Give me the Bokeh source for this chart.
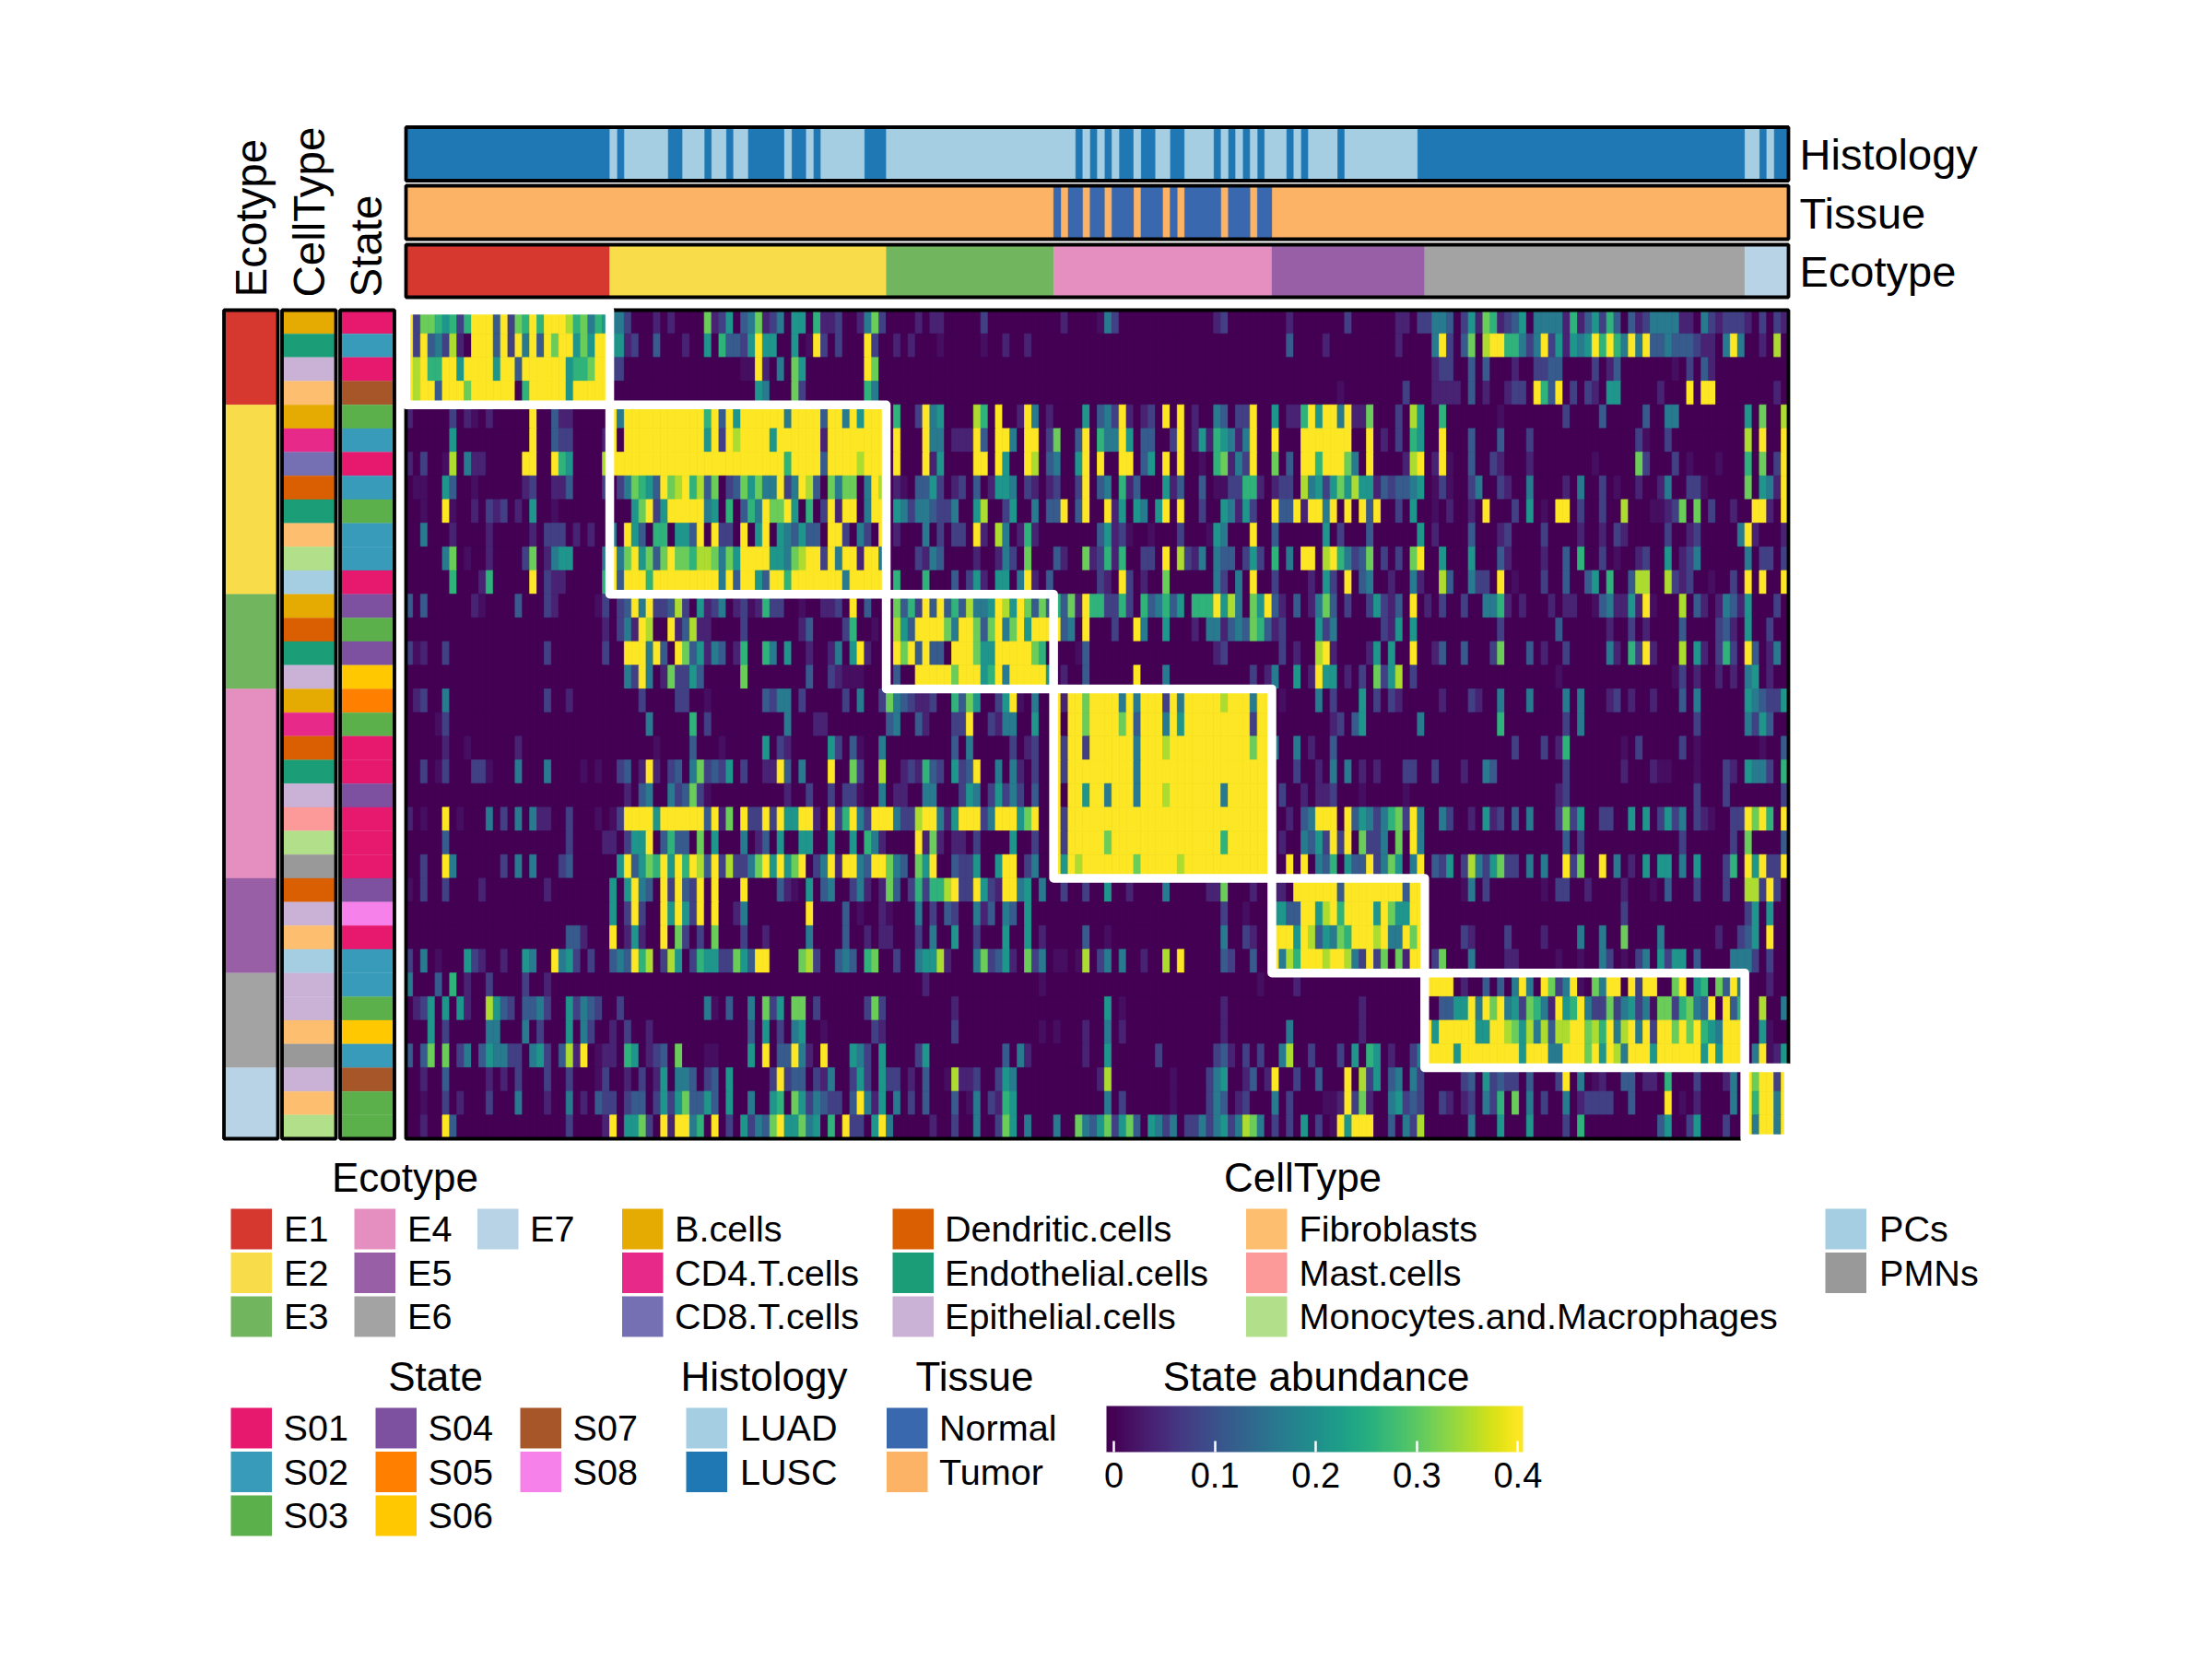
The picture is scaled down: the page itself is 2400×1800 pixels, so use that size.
from math import pi
from bokeh.core.properties import value
from bokeh.embed import file_html
from bokeh.models import ColorBar, ColumnDataSource, FixedTicker, LinearColorMapper, Range1d
from bokeh.palettes import Viridis256
from bokeh.plotting import figure
from bokeh.resources import INLINE
from bokeh.transform import linear_cmap

# ---------- values ----------
n_columns = 190
ecotypes = ["E1", "E2", "E3", "E4", "E5", "E6", "E7"]
ecotype_colors = ["#D6372E", "#F9DC4A", "#71B55F", "#E58FC0", "#985EA6", "#A3A3A3", "#B8D3E6"]
ecotype_columns = [28, 38, 23, 30, 21, 44, 6]
ecotype_rows = [4, 8, 4, 8, 4, 4, 3]

celltype_names = ["B.cells", "CD4.T.cells", "CD8.T.cells", "Dendritic.cells", "Endothelial.cells",
                  "Epithelial.cells", "Fibroblasts", "Mast.cells", "Monocytes.and.Macrophages", "PCs", "PMNs"]
celltype_colors = ["#E6AB02", "#E7298A", "#7570B3", "#D95F02", "#1B9E77", "#CAB2D6",
                   "#FDBF6F", "#FB9A99", "#B2DF8A", "#A6CEE3", "#999999"]
state_names = ["S01", "S02", "S03", "S04", "S05", "S06", "S07", "S08"]
state_colors = ["#E7196F", "#389BBA", "#5CB04B", "#7E50A0", "#FF7F00", "#FFC800", "#A65628", "#F781EA"]
histology_names = ["LUAD", "LUSC"]
histology_colors = ["#A6CEE3", "#1F78B4"]
tissue_names = ["Normal", "Tumor"]
tissue_colors = ["#3A68AE", "#FDB366"]

row_celltypes = ["B.cells", "Endothelial.cells", "Epithelial.cells", "Fibroblasts", "B.cells", "CD4.T.cells",
                 "CD8.T.cells", "Dendritic.cells", "Endothelial.cells", "Fibroblasts", "Monocytes.and.Macrophages",
                 "PCs", "B.cells", "Dendritic.cells", "Endothelial.cells", "Epithelial.cells", "B.cells",
                 "CD4.T.cells", "Dendritic.cells", "Endothelial.cells", "Epithelial.cells", "Mast.cells",
                 "Monocytes.and.Macrophages", "PMNs", "Dendritic.cells", "Epithelial.cells", "Fibroblasts", "PCs",
                 "Epithelial.cells", "Epithelial.cells", "Fibroblasts", "PMNs", "Epithelial.cells", "Fibroblasts",
                 "Monocytes.and.Macrophages"]
row_states = ["S01", "S02", "S01", "S07", "S03", "S02", "S01", "S02", "S03", "S02", "S02", "S01", "S04", "S03",
              "S04", "S06", "S05", "S03", "S01", "S01", "S04", "S01", "S01", "S01", "S04", "S08", "S01", "S02",
              "S02", "S03", "S06", "S02", "S07", "S03", "S03"]

# column spans (start, end) of the minority classes in the two top strips
luad_spans = [(28, 29), (30, 36), (38, 41), (42, 44), (45, 47), (52, 53), (55, 56), (57, 63), (66, 92), (93, 94),
              (95, 96), (97, 98), (100, 101), (103, 105), (107, 111), (112, 113), (114, 115), (116, 117),
              (118, 121), (122, 123), (124, 128), (129, 139), (184, 186), (187, 188)]
normal_spans = [(89, 90), (91, 93), (94, 96), (97, 100), (101, 104), (105, 106), (107, 112), (113, 116), (117, 119)]

# State abundance per row, as "first_column:levels"; unlisted cells are level 0.
level_values = {"0": 0.0, "1": 0.015, "2": 0.04, "3": 0.075, "4": 0.115, "5": 0.165,
                "6": 0.21, "7": 0.26, "8": 0.31, "9": 0.35, "Y": 0.4}
row_01 = "0:Y38876737YYY4Y387Y7YYY978576 28:553 34:2 36:2 41:8236 46:458235 53:66 56:7223 62:2583 70:2 72:22 79:3 90:2 95:153 111:23 121:2 129:3 136:22 139:33554 145:362872346 155:555527246374 168:423555522 178:5323332 186:3 188:32"
row_02 = "0:Y3Y453920YYY4Y3Y5Y4Y8YY686YY 28:6623 34:4 38:2 41:6 43:74436Y66 53:601Y3 59:3 63:Y3 67:2 69:2 73:1 79:1 82:2 85:2 121:4 126:2 136:2 141:5Y3 145:48 148:9YY77535Y362656Y7Y75Y5Y445444322 181:5Y5 186:2 188:9"
row_03 = "0:Y9Y77YY6YYYY6YY4YYYYYY6778YY 28:33 46:11 48:Y2 51:5 53:86 63:Y8 141:233 146:4 148:4 152:2 155:3344 163:3 165:24 174:1 176:3 178:42"
row_04 = "0:Y9YY4YYY8YYYYYY07YYYYY6YYYYY 48:65 53:83 63:75 128:1 137:3 141:2222 146:4 148:2 151:233 155:Y74Y 160:3 162:32 165:66 172:2 176:Y 178:YY 188:2"
row_05 = "0:2 6:3 8:21 11:2 17:Y 20:422 28:Y5YYYYYYYYYYY7Y4Y6YYYYYY5YYYY4YY5Y6YYY 67:7 70:3Y56 78:97 81:Y 84:2Y5 88:2 93:6 95:453Y2 101:23 104:Y 106:Y 108:2 111:54 114:33Y 119:6 121:22 123:7Y6YY5Y228 136:3 138:96 142:7 150:1 159:3 164:4 170:4 173:55 184:6 186:8 189:9"
row_06 = "6:6 17:Y 20:433 27:2 28:Y0YYYYYYYYYYY6Y3Y9YYYY6YYYYYY2YYYYYYYY 67:Y 71:Y55 75:222Y4 81:YY5 85:YY 88:38 92:4Y 95:755Y6 101:44 105:3Y 108:26276525Y 119:Y 123:YYYYYYY 132:Y 134:2 136:3 138:76 142:Y 146:4 150:4 154:3 169:31 173:3 184:9 186:Y 189:Y"
row_07 = "0:2 2:3 5:19 8:522 16:YY 20:Y76 27:9 28:YYYYYYYYYYYYYYYYYYYYYYYY7YYYY4YYYY9YYY 67:Y 71:Y26 78:YY 81:Y6 85:Y9 88:45 92:6Y 95:Y 98:YY 101:46 104:Y 106:Y 109:1 111:78253Y 119:8 121:4 123:YY7YYY85 132:Y 137:29Y 141:2Y1 146:4 149:32 154:2 163:1 169:83 174:3 176:1 180:1 184:7 186:8 188:3Y"
row_08 = "1:11 5:64 9:1 16:23 20:224 27:3 29:358764Y89Y794803486855Y35Y940858805Y9 67:21 70:4463 75:23 78:4 80:2665 85:32 88:23 92:3Y 95:45 98:724 104:624 109:4 111:1133 115:772 119:233 123:9563 127:6869662434456 141:131 146:35 150:32 154:5 159:2 161:5 164:3 166:1 169:2 172:25 176:331 184:8 186:652Y"
row_09 = "2:1 5:Y1 9:2 11:323 15:2 17:6 20:1 31:68Y36YYYYY56070475Y88Y60703Y2YY05YY 67:653 70:554335 78:69 82:36 86:5 88:44Y 92:4Y 96:Y26 100:65 103:6Y 106:Y 109:3 112:65263 119:Y44Y2YY5 127:Y 129:Y 131:Y4Y 136:3 138:6 141:1 143:2 146:2 148:Y 152:3 154:6 156:1 158:YY 161:3 164:3 167:9 171:11238 177:8 179:3 182:2 185:YY2 189:Y"
row_10 = "2:5 6:2 11:2 17:2 19:333 23:2 25:2 28:50Y640770664Y0Y330Y06Y06546440YY30530Y 67:2 71:5 73:3 75:33 78:Y2 81:95 84:272 95:46231 102:1 106:3 110:1 111:65 116:Y 119:4 126:6 128:3 132:4 139:6 141:2 146:4 150:23 156:3 161:2 164:2 166:32 173:3 176:23 183:5Y2 189:2"
row_11 = "5:58 8:1 11:2 16:38 19:2566 27:5 28:Y58Y6848Y887998586YYYY66589YY3Y5YY2YY5 70:3254 78:2 81:253 85:8 89:42 93:823727 101:33 104:Y 106:9325 111:544 115:363 119:7 121:5 123:YY 126:9 127:Y75348 134:3 136:3 138:8Y 142:6 146:6 150:42 156:2 159:4 161:7 164:3 166:1 169:23 173:6 175:235 184:5 186:33 189:3"
row_12 = "6:7 10:27 17:Y 19:322 27:7 28:Y4YYY7YYYYYYYYY5Y4YY64YY7YYYYYYY5YYYYY 67:7 71:7 75:4 77:362 81:66 84:5Y2 88:4 95:32 98:Y3 101:2 104:8 111:53 114:5 116:Y 119:3 124:2 126:6 127:3 129:Y 131:45 135:2 138:52 142:94 146:533 150:Y 152:1 156:3 159:4 162:46 165:7 168:499 173:9323 179:1 182:3 184:Y 186:Y 189:Y"
row_13 = "0:4 2:4 9:21 15:4 19:32 26:13 29:34Y5Y334930623502312733 54:1 57:223 61:Y 63:4 67:8473Y4Y4749556Y96Y84847482Y773373 101:745746 108:777Y695 116:86Y42 122:4 124:2584 129:3 132:36324 138:Y 140:2 142:3 145:3 148:5572 153:2 157:2 159:22 163:1452262Y1 175:9 177:42 180:25426 188:3"
row_14 = "27:2 29:352Y9 36:Y24922 46:3 54:24 60:37 64:1 67:964YYYY85YY848Y58Y6YYYY450Y 97:3 100:Y5 104:6 108:2 110:55245487423 125:63 127:5 134:326 138:6 150:3 158:4 165:2 168:3 170:2 175:4 180:342 184:6 187:3"
row_15 = "0:312 5:3 19:3 27:3 30:YYY5Y40Y846254027 49:75 52:6 55:2 58:25 61:6Y2 67:Y8Y4Y440YYY866YYYYY87 92:14 111:23 120:3 122:2 125:9Y 127:2 132:26 135:6 138:Y 141:24 145:4 149:38 154:4 156:2 159:3 165:52 168:73Y2 175:9 177:62 180:373 184:Y4 187:25"
row_16 = "30:53Y5 35:283364 46:8 55:4 58:32111 67:400YYYYY8YYY67Y5YYYYY6 90:2 93:4 100:Y 104:5 116:3 118:25 122:6 124:2 125:Y6 127:6 129:2 131:3 133:8369 138:3 158:1 174:13 177:2 180:2 182:2 184:56 187:2"
row_17 = "1:23 5:5 19:3 22:2 32:3 37:33 41:1 49:4355 54:3 60:3 62:5 65:38543223 75:7486 81:36Y1 86:5 89:Y2YY8YYYY5Y5YYY3Y5YYYYY9YYY5YY 120:1 125:5 127:3 131:6 133:3 135:32 142:2 146:32 150:5 154:5 159:5 161:5 165:23 168:2 171:2 175:4 177:5 184:654336"
row_18 = "4:13 33:5 39:7 41:3 52:5 56:22 66:45 70:42 75:33Y 80:3255 86:6 89:Y0YY8YYYY8Y4YYY5Y6YYYYYYYYY3YY 127:2 128:3 130:46 139:5 150:7 159:3 161:5 177:3 184:5364"
row_19 = "5:2 8:1 15:2 34:1 39:4 43:1 49:6 51:32 58:63 61:41 65:5 75:4 77:5 83:3 85:23 89:Y3YY3YYYYYY5YYY9YYYYYYYYYYY8YY 119:5 122:5 124:2 127:4 152:3 156:3 158:27 167:1 169:3 175:3 177:1 186:1 189:4"
row_20 = "2:3 4:13 9:331 15:5 19:5 24:1 26:1 29:34 32:2Y2 36:34 39:583436 46:3 49:22Y4 54:5 58:Y 61:83 65:9 68:232743 75:634Y 81:5 83:52 86:3 89:Y3YYYYYYYYY5YYYYYYYYYYYYYYYYYY 122:3 125:2 127:5 129:5 131:2 133:2 137:33 141:3 145:2 148:54 159:3 167:2 171:2 172:11 177:1 181:32 184:6553 189:7"
row_21 = "30:2 32:45 36:534831 52:2 55:3 58:3 60:331 65:5 67:22 71:55 76:365 80:36353 86:4 89:Y0YY6YY5YYY5YYY9YYYYYYY5YYYYYY 120:3 123:2 125:22 127:3 131:1 137:1 158:23 177:3 181:3 189:3"
row_22 = "0:2 2:1 5:Y 7:1 11:5 13:3 15:5 17:522 22:3 26:1 28:13YYYY6YYYYYY4Y280Y33Y3Y66YY20Y37Y53YYY5339YY526YYY35YYY68Y 89:Y3YYYYYYYYYYYYYYYYYYYYYYYYYYYY 121:2 123:45 125:YYY0Y46535783Y5 142:53 146:2 148:623 152:4 154:5 158:3836 164:33 168:6 170:6 172:3635 177:321 182:33 184:Y8Y7 189:Y"
row_23 = "5:4 22:3 27:22 30:366Y 35:4744 40:8 42:6 46:5 48:24 51:6 54:66 58:6 61:6 63:752 70:Y282 75:22 78:3 83:6 86:3 89:Y3YYYYY8YYYYYYYYYYYYYYY7YYYYYY 120:2 123:546 126:3Y3Y 131:8335 136:8 138:Y5 159:4 161:3 175:3 182:3 184:8 189:4"
row_24 = "2:3 5:Y5 13:3 15:5 17:5 21:34 29:6Y4687Y6Y7Y94Y393358Y6Y68Y035Y2YY54YY854 70:86Y 75:4336 81:6YY 85:35 89:Y6Y9YYYYYYY8YYYYY9YYYYYYYYYYYY 121:Y 123:Y 125:54 127:7 129:644Y3586 138:5Y 141:436 145:39536833 154:5 156:5 159:Y38 164:Y 166:5 168:2 170:6 172:66 175:5 177:6 181:37 184:Y6Y33Y"
row_25 = "0:1 2:3 5:3 10:2 19:2 28:6 30:6Y54 35:Y3Y43Y 42:Y 46:Y 51:421 55:6 57:45 61:352 65:284 69:373779Y33Y632YY56 87:5 90:3 93:3 96:6 99:2 104:5 110:228 116:2 119:2 120:2 122:YYYYYY 128:4 129:YYYYYYYY 137:4 138:YY 145:15 148:3 156:1 158:33 162:2 167:2 171:1 173:4 177:3 181:3 184:993Y3"
row_26 = "28:6 30:3Y3 35:Y6Y63Y 42:Y 45:25 55:Y 60:4 62:1 65:21 70:5 72:3 74:43 78:524 82:54 85:6 112:3 115:1 119:6644YY69 127:Y7YYYY6Y866YY 167:3 184:36 187:6"
row_27 = "22:442 28:Y 30:262 35:Y 37:83 40:3 42:8 46:3 49:2 55:5 60:4 63:2 65:22 70:3 72:5 75:6 78:3 82:6 85:6 87:2 93:4 96:1 112:5 115:32 119:YYY6Y946 127:587YYY9Y55Y8Y 145:32 151:3 156:2 161:5 164:5 167:8 172:5 180:2 183:346 187:Y"
row_28 = "0:3 2:5 4:1 8:632 13:2 16:65 20:Y563 25:3 28:454Y79 35:396 39:3766 43:33864YY 54:893 59:454 63:78 67:3 70:56692 78:583462 85:835 89:11 92:19 95:35 98:5 101:2 104:9 106:Y 112:43 116:4 119:Y597YYY9 127:YY953Y38082YY 141:38 146:5 151:22 158:1 161:1 164:53 167:1 169:35 172:6366 177:4 182:5553 187:3"
row_29 = "0:5 4:4 6:7 8:2 11:3 16:3 19:2 71:2 87:1 117:1 122:2 140:YYYY02004040 152:5Y50Y835Y1085YY0Y3YY008Y067084Y5 187:2"
row_30 = "1:236 5:6 7:62 11:9643 16:4453 22:63543 29:3 41:51 44:4 47:5 49:836 53:88 56:3 63:383 75:2 96:6 98:1 112:2 131:2 140:004466Y5Y8Y5638752Y67Y53383563518837854Y0Y47 186:9 189:5"
row_31 = "3:6 5:3 11:55 16:5 18:3 22:6 24:53 28:2 30:3 33:2 47:4 49:6 51:3 53:56 57:1 64:32 75:3 87:1 89:1 93:2 96:5 98:2 112:2 121:5 131:2 140:Y6YYYYY66YY986959499YY897Y59Y5Y3YY8Y8Y765YYY 186:61"
row_32 = "0:4 2:48 5:8 7:35 10:465533 17:563 21:492Y 26:122 30:76 33:234 37:8 41:11 47:6 49:Y 51:44Y52 57:Y 61:653 65:6 70:36 82:4 84:52 93:2 96:6 103:3 111:342 115:3 117:3 120:59 124:3 128:3 130:6 132:76 135:2 138:35 140:YYYY6YYYYYYYY6YYY55YYY8Y6Y95YYY6YYYYYY6Y6YYY 185:5Y 187:126"
row_33 = "2:2 5:4 11:2 13:2 15:3 19:3 22:3 26:13 30:2 32:3 34:26 37:554 41:34 44:6 50:3Y3 53:44 56:325 61:363 65:633 69:2 71:4 74:192 77:23 81:365 95:29 105:1 110:356 115:24 118:2Y 122:3 125:4 129:Y 131:936 135:45 138:53 145:34 148:634 151:33 154:4 158:3Y 161:5 163:12 167:44 170:22 173:7 177:3 181:25 184:Y8YY3Y"
row_34 = "2:1 5:3 7:2 11:3 15:5 19:2 22:5 24:2 26:433 30:344 34:3636844 41:64 44:6 47:5 50:67 53:8635433 61:4Y526 67:5 69:3 71:4 75:4 77:15 80:32 82:76 96:5 98:3 105:1 110:354 114:23 119:5 121:3 126:112 129:Y382 135:56343 142:32 145:23 148:537 152:8 154:5 156:3 159:5 161:23333 168:4 173:Y 175:1 177:2 182:5 184:Y7YY5Y"
row_35 = "2:2 5:Y4 22:3 27:2 28:Y 30:6683 35:Y2YY57 42:Y 44:3 46:63548Y66856 58:7 60:Y33 64:6Y5 72:2 75:3 78:5 81:386 85:5 89:5 92:854683684 102:6535 107:33535635985 119:3 121:3 123:6 125:3 127:1 128:Y6YYY 135:4 137:539 146:5 150:6 154:6 159:3 161:7 172:46 176:36 181:3 184:Y5YY5Y"
heat_rows = [row_01, row_02, row_03, row_04, row_05, row_06, row_07, row_08, row_09, row_10, row_11, row_12,
             row_13, row_14, row_15, row_16, row_17, row_18, row_19, row_20, row_21, row_22, row_23, row_24,
             row_25, row_26, row_27, row_28, row_29, row_30, row_31, row_32, row_33, row_34, row_35]

colorbar_ticks = [0, 0.1, 0.2, 0.3, 0.4]

# ---------- layout (picture pixels) ----------
W, H = 2384, 1784
HEAT = (440.0, 1940.0, 336.0, 1235.0)
ANN_X = {"Ecotype": (242.5, 301.0), "CellType": (305.5, 364.0), "State": (368.5, 427.5)}
ANN_Y = {"Histology": (137.5, 195.5), "Tissue": (201.0, 259.0), "Ecotype": (265.0, 322.0)}
FONT = value("Liberation Sans")
FRAME = 3.8

p = figure(width=W, height=H, x_range=Range1d(0, W), y_range=Range1d(H, 0), output_backend="svg",
           toolbar_location=None, x_axis_location=None, y_axis_location=None, min_border=0,
           outline_line_color=None, background_fill_color="white", border_fill_color="white")
p.grid.visible = False


def add_x(name, px0, px1, d0, d1):
    k = (d1 - d0) / (px1 - px0)
    start = d0 - px0 * k
    p.extra_x_ranges[name] = Range1d(start, start + W * k)


def add_y(name, px0, px1, d0, d1):
    k = (d1 - d0) / (px1 - px0)
    at_top = d0 - px0 * k
    p.extra_y_ranges[name] = Range1d(at_top + H * k, at_top)


add_x("columns", HEAT[0], HEAT[1], 0, n_columns)
add_y("rows", HEAT[2], HEAT[3], 0, len(heat_rows))
for nm, (a, b) in ANN_X.items():
    add_x("ann_" + nm, a, b, 0, 1)
for nm, (a, b) in ANN_Y.items():
    add_y("ann_" + nm, a, b, 0, 1)

# ---------- heat cells ----------
cols, rows, vals = [], [], []
for r, spec in enumerate(heat_rows):
    line = [0.0] * n_columns
    for token in spec.split():
        start, levels = token.split(":")
        for i, ch in enumerate(levels):
            if int(start) + i < n_columns:
                line[int(start) + i] = level_values[ch]
    for c, v in enumerate(line):
        cols.append(c)
        rows.append(r)
        vals.append(v)
heat_src = ColumnDataSource(dict(l=cols, r=[c + 1 for c in cols], t=rows, b=[x + 1 for x in rows], v=vals))
cmap = linear_cmap("v", Viridis256, 0, 0.4)
p.quad(left=[0], right=[n_columns], top=[0], bottom=[len(heat_rows)], fill_color=Viridis256[0], line_color=None,
       x_range_name="columns", y_range_name="rows")
p.quad(left="l", right="r", top="t", bottom="b", source=heat_src, fill_color=cmap, line_color=cmap,
       line_width=0.8, x_range_name="columns", y_range_name="rows")
p.quad(left=[0], right=[n_columns], top=[0], bottom=[len(heat_rows)], fill_color=None, line_color="black",
       line_width=FRAME, x_range_name="columns", y_range_name="rows")

# ---------- top strips ----------
col_edges = [sum(ecotype_columns[:i]) for i in range(len(ecotype_columns) + 1)]
row_edges = [sum(ecotype_rows[:i]) for i in range(len(ecotype_rows) + 1)]


def strip(y_name, lefts, rights, colors):
    p.quad(left=lefts, right=rights, top=[0] * len(lefts), bottom=[1] * len(lefts), fill_color=colors,
           line_color=colors, line_width=0.3, x_range_name="columns", y_range_name=y_name)
    p.quad(left=[0], right=[n_columns], top=[0], bottom=[1], fill_color=None, line_color="black", line_width=FRAME,
           x_range_name="columns", y_range_name=y_name)


strip("ann_Histology", [0] + [s for s, _ in luad_spans], [n_columns] + [e for _, e in luad_spans],
      [histology_colors[1]] + [histology_colors[0]] * len(luad_spans))
strip("ann_Tissue", [0] + [s for s, _ in normal_spans], [n_columns] + [e for _, e in normal_spans],
      [tissue_colors[1]] + [tissue_colors[0]] * len(normal_spans))
strip("ann_Ecotype", col_edges[:-1], col_edges[1:], ecotype_colors)


# ---------- left strips ----------
def side(x_name, tops, bottoms, colors):
    p.quad(left=[0] * len(tops), right=[1] * len(tops), top=tops, bottom=bottoms, fill_color=colors,
           line_color=colors, line_width=0.3, x_range_name=x_name, y_range_name="rows")
    p.quad(left=[0], right=[1], top=[0], bottom=[len(heat_rows)], fill_color=None, line_color="black",
           line_width=FRAME, x_range_name=x_name, y_range_name="rows")


idx = list(range(len(heat_rows)))
side("ann_Ecotype", row_edges[:-1], row_edges[1:], ecotype_colors)
side("ann_CellType", idx, [i + 1 for i in idx], [celltype_colors[celltype_names.index(c)] for c in row_celltypes])
side("ann_State", idx, [i + 1 for i in idx], [state_colors[state_names.index(s)] for s in row_states])

# ---------- white diagonal blocks ----------
p.quad(left=col_edges[:-1], right=col_edges[1:], top=row_edges[:-1], bottom=row_edges[1:], fill_color=None,
       line_color="white", line_width=9.5, line_join="round", x_range_name="columns", y_range_name="rows")

# ---------- strip names ----------
p.text(x=[1952] * 3, y=[166.5, 230.5, 293.5], text=["Histology", "Tissue", "Ecotype"], text_font=FONT,
       text_font_size="47px", text_align="left", text_baseline="middle", text_color="black")
p.text(x=[272, 335, 396.5], y=[322, 322, 322], text=["Ecotype", "CellType", "State"], angle=pi / 2,
       text_font=FONT, text_font_size="47.5px", text_align="left", text_baseline="alphabetic", text_color="black")


# ---------- legends ----------
def legend(names, colors, box_x, label_x, y_tops, per_col):
    xs, ys, cs, tx, ty, tt = [], [], [], [], [], []
    for i, (n, c) in enumerate(zip(names, colors)):
        cx, rw = i // per_col, i % per_col
        xs.append(box_x[cx])
        ys.append(y_tops[rw])
        cs.append(c)
        tx.append(label_x[cx])
        ty.append(y_tops[rw] + 21.5)
        tt.append(n)
    p.quad(left=xs, right=[x + 44.5 for x in xs], top=ys, bottom=[y + 44 for y in ys], fill_color=cs, line_color=None)
    p.text(x=tx, y=ty, text=tt, text_font=FONT, text_font_size="39.6px", text_align="left", text_baseline="middle",
           text_color="black")


top_row = [1311, 1358.5, 1406]
low_row = [1527, 1574.5, 1622]
legend(ecotypes, ecotype_colors, [250, 384, 517.5], [307.5, 441.5, 574.5], top_row, 3)
legend(celltype_names, celltype_colors, [674.5, 968, 1351.5, 1980], [731.5, 1024.5, 1409, 2038.5], top_row, 3)
legend(state_names, state_colors, [250, 407, 564], [307, 464, 621], low_row, 3)
legend(histology_names, histology_colors, [744], [802.5], low_row, 3)
legend(tissue_names, tissue_colors, [961.5], [1018.5], low_row, 3)

p.text(x=[439, 1413, 472, 828.5, 1057, 1427.5], y=[1277, 1277, 1493, 1493, 1493, 1493],
       text=["Ecotype", "CellType", "State", "Histology", "Tissue", "State abundance"], text_font=FONT,
       text_font_size="44px", text_align="center", text_baseline="alphabetic", text_color="black")

# ---------- colour bar ----------
BAR_X0, BAR_X1, BAR_Y0, BAR_Y1 = 1200, 1652, 1524, 1574
bar_low, bar_high = -0.0073, 0.4051
bar_steps = [i / 255 * (bar_high - bar_low) + bar_low for i in range(256)]
bar_palette = [Viridis256[max(0, min(255, int(round(v / 0.4 * 255))))] for v in bar_steps]
mapper = LinearColorMapper(palette=bar_palette, low=bar_low, high=bar_high)
bar = ColorBar(color_mapper=mapper, ticker=FixedTicker(ticks=colorbar_ticks),
               major_label_overrides={0: "0"}, orientation="horizontal",
               location=(BAR_X0, H - BAR_Y1 - 42), width=BAR_X1 - BAR_X0, height=BAR_Y1 - BAR_Y0,
               padding=0, margin=0, bar_line_color=None, border_line_color=None, background_fill_color=None,
               major_tick_line_color="white", major_tick_line_width=2.5, major_tick_in=12, major_tick_out=0,
               minor_tick_line_color=None, label_standoff=11, major_label_text_font="Liberation Sans",
               major_label_text_font_size="38px", major_label_text_color="black")
p.add_layout(bar)
add_x("bar", BAR_X0, BAR_X1, bar_low, bar_high)
p.segment(x0=colorbar_ticks, x1=colorbar_ticks, y0=[BAR_Y0] * 5, y1=[BAR_Y0 + 12] * 5, line_color="white",
          line_width=2.5, x_range_name="bar")

open("out.html", "w").write(file_html(p, INLINE))
